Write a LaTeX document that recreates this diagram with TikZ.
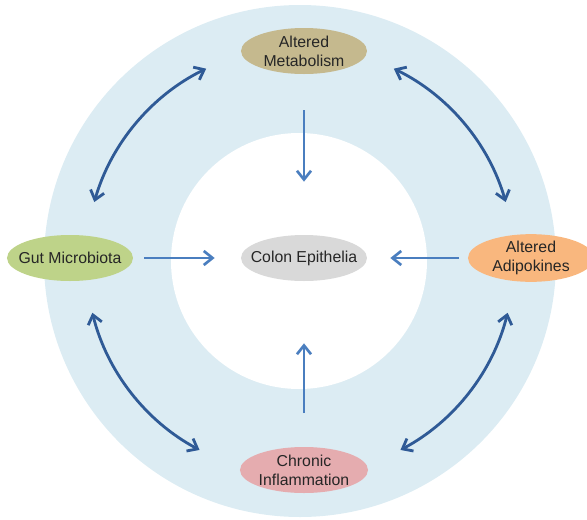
\documentclass[tikz,border=0pt]{standalone}
\usepackage{fontspec}
\setmainfont{Liberation Sans}
\usepackage{tikz}
\usetikzlibrary{arrows.meta,shapes.geometric}
\definecolor{ringblue}{RGB}{220,236,243}
\definecolor{metabfill}{RGB}{197,185,142}
\definecolor{gutfill}{RGB}{190,211,137}
\definecolor{colonfill}{RGB}{217,217,217}
\definecolor{adipofill}{RGB}{249,183,126}
\definecolor{chronfill}{RGB}{229,172,175}
\definecolor{feedblue}{RGB}{74,126,191}
\definecolor{talkblue}{RGB}{47,90,150}
\tikzset{
	factor/.style={ellipse, minimum width=2.52cm, minimum height=0.92cm, inner sep=0pt, align=center, font=\fontsize{9}{10.8}\selectfont, text=black!85},
	oneline/.style={inner xsep=-2mm},
	feed/.style={draw=feedblue, line width=1.5pt, -{Straight Barb[length=5pt,width=8pt]}},
	crosstalk/.style={draw=talkblue, line width=1.6pt, {Straight Barb[length=5pt,width=8pt]}-{Straight Barb[length=5pt,width=8pt]}}
}
\newcommand{\talkrad}{4.28}

\begin{document}
\begin{tikzpicture}
							\clip (-6.0,-5.16) rectangle (5.74,5.22);
							%ring round the epithelia
							\fill[ringblue] (0,0) circle (5.12);
							\fill[white] (-0.02,0) circle (2.56);

							%factors on the ring
							\node[factor, fill=metabfill] (metab) at (0.08,4.2) {Altered\\Metabolism};
							\node[factor, oneline, fill=gutfill] (gut) at (-4.6,0.06) {Gut Microbiota};
							\node[factor, fill=adipofill] (adipo) at (4.62,0.06) {Altered\\Adipokines};
							\node[factor, fill=chronfill] (chron) at (0.08,-4.18) {Chronic\\Inflammation};
							%target in the middle
							\node[factor, oneline, fill=colonfill] (colon) at (0.08,0.06) {Colon Epithelia};

							%effects on the epithelia
							\draw[feed, shorten <=0.72cm, shorten >=1.06cm] (metab) -- (colon);
							\draw[feed, shorten <=0.67cm, shorten >=1.24cm] (chron) -- (colon);
							\draw[feed, shorten <=0.22cm, shorten >=0.52cm] (gut) -- (colon);
							\draw[feed, shorten <=0.17cm, shorten >=0.46cm] (adipo) -- (colon);

							%crosstalk between the factors
							\foreach \a/\b in {16/64, 116/164, 194/242, 298/346}
								{
								\coordinate (talk\a) at (\a:\talkrad);
								\draw[crosstalk] (talk\a) arc[start angle=\a, end angle=\b, radius=\talkrad];
								} %end for \a
					\end{tikzpicture}
\end{document}
